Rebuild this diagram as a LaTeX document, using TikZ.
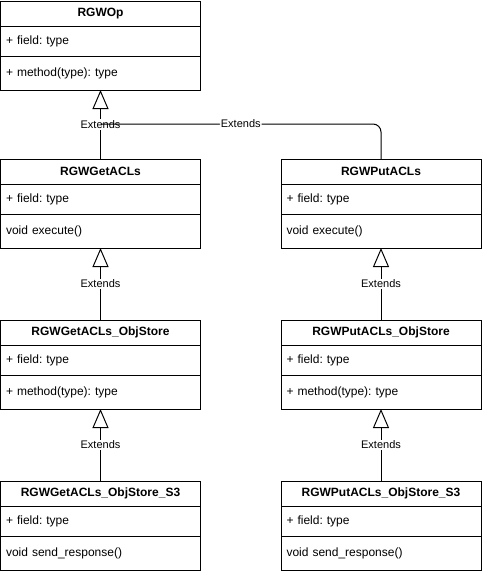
\documentclass[tikz,border=0pt]{standalone}
\usepackage{fontspec}
\setmainfont{Liberation Sans}
\usetikzlibrary{positioning,arrows.meta}
\frenchspacing

\begin{document}
\begin{tikzpicture}[node distance=0pt, line width=1pt]
	\tikzstyle{every node}=[outer sep=0pt]
	\tikzstyle{head}=[draw, minimum width=200pt, minimum height=25pt, inner sep=0pt, font=\fontsize{12}{14}\selectfont\bfseries]
	\tikzstyle{fields}=[draw, minimum width=200pt, minimum height=30pt, text width=189pt, align=left, inner xsep=5.5pt, inner ysep=0pt, font=\fontsize{12}{14}\selectfont]
	\tikzstyle{methods}=[fields, minimum height=34pt]
	\tikzstyle{ext}=[-{Triangle[open, width=16pt, length=19pt]}]
	\tikzstyle{lbl}=[fill=white, inner sep=1pt, font=\fontsize{11}{13}\selectfont]
	\useasboundingbox (0,0) rectangle (482pt,-573pt);
	%Base class
	\node[head] (op) at (100.5pt,-13.5pt) {RGWOp};
	\node[fields, below=of op] (opf) {+ field: type};
	\node[methods, below=of opf] (opm) {+ method(type): type};
	%Get column
	\node[head, below=69pt of opm] (get) {RGWGetACLs};
	\node[fields, below=of get] (getf) {+ field: type};
	\node[methods, below=of getf] (getm) {void execute()};
	\node[head, below=72pt of getm] (getobj) {RGWGetACLs\_ObjStore};
	\node[fields, below=of getobj] (getobjf) {+ field: type};
	\node[methods, below=of getobjf] (getobjm) {+ method(type): type};
	\node[head, below=72pt of getobjm] (gets3) {RGWGetACLs\_ObjStore\_S3};
	\node[fields, below=of gets3] (gets3f) {+ field: type};
	\node[methods, below=of gets3f] (gets3m) {void send\_response()};
	%Put column
	\node[head, right=80.5pt of get] (put) {RGWPutACLs};
	\node[fields, below=of put] (putf) {+ field: type};
	\node[methods, below=of putf] (putm) {void execute()};
	\node[head, below=72pt of putm] (putobj) {RGWPutACLs\_ObjStore};
	\node[fields, below=of putobj] (putobjf) {+ field: type};
	\node[methods, below=of putobjf] (putobjm) {+ method(type): type};
	\node[head, below=72pt of putobjm] (puts3) {RGWPutACLs\_ObjStore\_S3};
	\node[fields, below=of puts3] (puts3f) {+ field: type};
	\node[methods, below=of puts3f] (puts3m) {void send\_response()};
	%Extends to RGWOp
	\coordinate[below=34pt of opm] (join);
	\draw[ext] (get) -- (opm) node[lbl, midway] {Extends};
	\draw[rounded corners=8pt] (put) |- (join) node[lbl, pos=0.75] {Extends};
	%Extends below
	\draw[ext] (getobj) -- (getm) node[lbl, midway] {Extends};
	\draw[ext] (gets3) -- (getobjm) node[lbl, midway] {Extends};
	\draw[ext] (putobj) -- (putm) node[lbl, midway] {Extends};
	\draw[ext] (puts3) -- (putobjm) node[lbl, midway] {Extends};
\end{tikzpicture}
\end{document}
